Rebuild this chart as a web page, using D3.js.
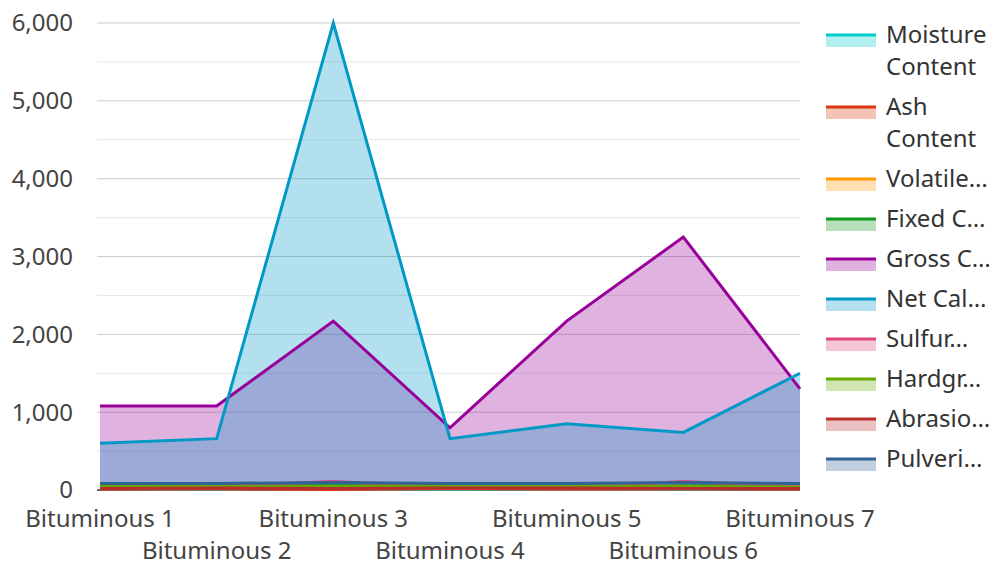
<!DOCTYPE html>
<html>
<head>
<meta charset="UTF-8" />
<script src="https://d3js.org/d3.v7.min.js"></script>
<style>
  body { margin: 0; background: #fff; }
  text { font-family: "Noto Sans", "Open Sans", sans-serif; fill: #444; }
</style>
</head>
<body>
<svg id="chart" width="996" height="562"></svg>
<script>
const categories = ["Bituminous 1", "Bituminous 2", "Bituminous 3", "Bituminous 4", "Bituminous 5", "Bituminous 6", "Bituminous 7"];
const seriesNames = ["Moisture Content", "Ash Content", "Volatile Matter", "Fixed Carbon", "Gross Calorific Value",
  "Net Calorific Value", "Sulfur Content", "Hardgrove Index", "Abrasion Index", "Pulverizability"];
const legendLabels = [["Moisture", "Content"], ["Ash", "Content"], ["Volatile…"], ["Fixed C…"], ["Gross C…"],
  ["Net Cal…"], ["Sulfur…"], ["Hardgr…"], ["Abrasio…"], ["Pulveri…"]];
const colors = ["#00cccc", "#dc3912", "#ff9900", "#109618", "#990099", "#0099c6", "#dd4477", "#66aa00", "#b82e2e", "#316395"];

const moisture   = [8, 6, 10, 7, 9, 8, 5];
const ash        = [10, 12, 8, 15, 10, 12, 9];
const volatile   = [30, 35, 32, 30, 35, 33, 30];
const fixedC     = [50, 48, 55, 52, 40, 50, 55];
const grossCal   = [1080, 1080, 2170, 800, 2170, 3250, 1300];
const netCal     = [600, 660, 6000, 660, 850, 740, 1500];
const sulfur     = [30, 50, 110, 40, 30, 110, 45];
const hardgrove  = [50, 45, 45, 55, 50, 45, 40];
const abrasion   = [20, 25, 20, 25, 25, 20, 20];
const pulveri    = [85, 85, 95, 85, 85, 95, 85];
const allValues = [moisture, ash, volatile, fixedC, grossCal, netCal, sulfur, hardgrove, abrasion, pulveri];

const yTicks = [0, 1000, 2000, 3000, 4000, 5000, 6000];
const yMinor = [500, 1500, 2500, 3500, 4500, 5500];

const svg = d3.select("#chart");
const x = d3.scalePoint().domain(categories).range([100, 800]);
const y = d3.scaleLinear().domain([0, 6000]).range([490, 23]);

// grid
svg.append("g").selectAll("line").data(yMinor).join("line")
  .attr("x1", 97).attr("x2", 800)
  .attr("y1", d => y(d)).attr("y2", d => y(d))
  .attr("stroke", "#e6e6e6").attr("stroke-width", 1);
svg.append("g").selectAll("line").data(yTicks.slice(1)).join("line")
  .attr("x1", 97).attr("x2", 800)
  .attr("y1", d => y(d)).attr("y2", d => y(d))
  .attr("stroke", "#cccccc").attr("stroke-width", 1);

// y labels
svg.append("g").selectAll("text").data(yTicks).join("text")
  .attr("x", 73).attr("y", d => y(d))
  .attr("dy", "0.35em").attr("text-anchor", "end")
  .style("font-size", "24px")
  .text(d => d3.format(",")(d));

// x labels, alternating rows
svg.append("g").selectAll("text").data(categories).join("text")
  .attr("x", d => x(d))
  .attr("y", (d, i) => i % 2 === 0 ? 519 : 551)
  .attr("dy", "0.35em").attr("text-anchor", "middle")
  .style("font-size", "24px")
  .text(d => d);

const area = d3.area().x((d, i) => x(categories[i])).y0(y(0)).y1(d => y(d));
const line = d3.line().x((d, i) => x(categories[i])).y(d => y(d));

svg.append("g").selectAll("path").data(allValues).join("path")
  .attr("d", area)
  .attr("fill", (d, i) => colors[i]).attr("fill-opacity", 0.3);
svg.append("g").selectAll("path").data(allValues).join("path")
  .attr("d", line)
  .attr("fill", "none")
  .attr("stroke", (d, i) => colors[i]).attr("stroke-width", 3)
  .attr("stroke-linejoin", "miter");

// baseline tick
svg.append("line").attr("x1", 97).attr("x2", 100).attr("y1", y(0)).attr("y2", y(0))
  .attr("stroke", "#333").attr("stroke-width", 1.5);

// legend
let ly = 35;
const legend = svg.append("g");
legendLabels.forEach((lines, i) => {
  const g = legend.append("g").attr("transform", `translate(0,${ly})`);
  g.append("rect").attr("x", 826).attr("y", 0).attr("width", 50).attr("height", 12)
    .attr("fill", colors[i]).attr("fill-opacity", 0.3);
  g.append("rect").attr("x", 826).attr("y", -1.5).attr("width", 50).attr("height", 3)
    .attr("fill", colors[i]);
  lines.forEach((t, j) => {
    g.append("text").attr("x", 886).attr("y", j * 32).attr("dy", "0.35em")
      .style("font-size", "24px").style("fill", "#333").text(t);
  });
  ly += 40 + (lines.length - 1) * 32;
});
</script>
</body>
</html>
